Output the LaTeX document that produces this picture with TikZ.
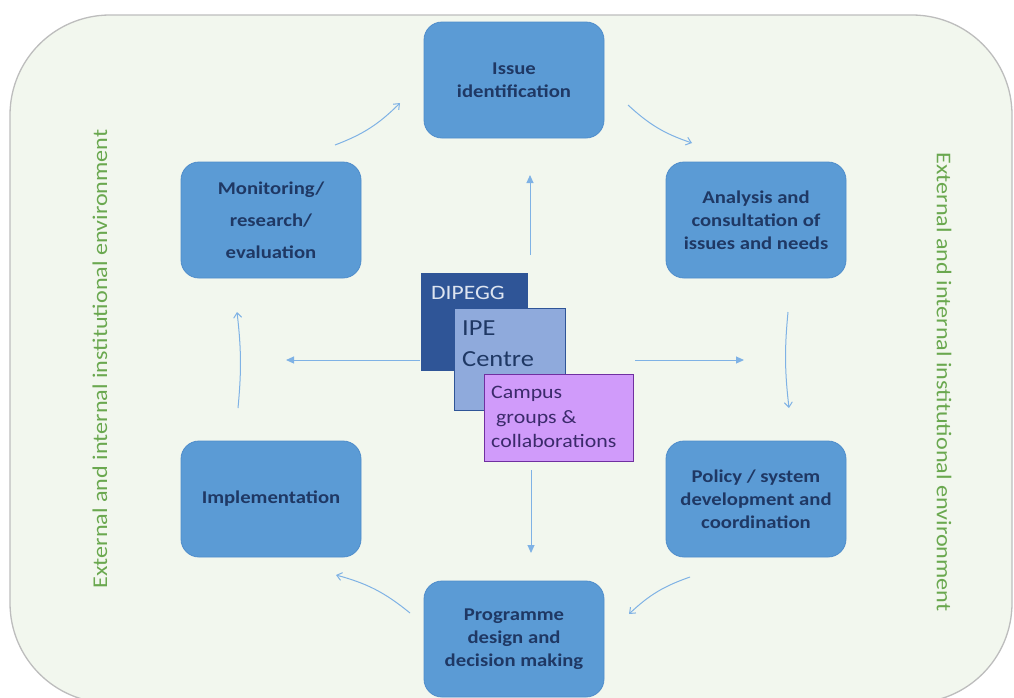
\documentclass[tikz,border=0pt]{standalone}
\usepackage{fontspec}
\setmainfont[FakeStretch=1.15]{Carlito}
\usetikzlibrary{arrows.meta}
\definecolor{bgfill}{HTML}{F2F7EE}
\definecolor{bgline}{HTML}{BDBDBD}
\definecolor{boxfill}{HTML}{5B9BD5}
\definecolor{boxline}{HTML}{4F8DCB}
\definecolor{boxtext}{HTML}{1F3864}
\definecolor{arrowc}{HTML}{7FB2E5}
\definecolor{envgreen}{HTML}{6AA84F}
\definecolor{dipegg}{HTML}{2F5597}
\definecolor{dipeggtext}{HTML}{DDE4F0}
\definecolor{ipe}{HTML}{8FAADC}
\definecolor{campus}{HTML}{D09BFA}
\definecolor{campusline}{HTML}{7030A0}
\definecolor{campustext}{HTML}{3B2A6B}
\tikzset{
  stage/.style={rounded corners=18, fill=boxfill, draw=boxline, line width=0.8,
    minimum width=180, minimum height=116, text=boxtext, align=center,
    font=\bfseries\fontsize{18}{23}\selectfont},
  cyc/.style={draw=arrowc, line width=1, -{Straight Barb[length=5pt,width=8pt]}},
  ctr/.style={draw=arrowc, line width=1, -{Triangle[length=8pt,width=7pt]}},
  env/.style={text=envgreen, font=\fontsize{21}{22}\selectfont, inner sep=0},
  centrebox/.style={anchor=north west, inner sep=0, line width=1},
}
\begin{document}
\begin{tikzpicture}[x=1pt,y=-1pt]
\useasboundingbox (0,0) rectangle (1014,697);
\begin{scope}
\clip (0,0) rectangle (1014,697);
\path[fill=bgfill, draw=bgline, line width=1.3, rounded corners=100] (10,15) rectangle (1012,703);
\end{scope}

\node[env, rotate=90] (envl) at (100,359) {External and internal institutional environment};
\node[env, rotate=-90] (envr) at (944,382) {External and internal institutional environment};

\node[stage] (issue) at (514,80) {Issue\\identification};
\node[stage] (anal) at (756,220) {Analysis and\\consultation of\\issues and needs};
\node[stage] (policy) at (756,499) {Policy / system\\development and\\coordination};
\node[stage] (prog) at (514,639) {Programme\\design and\\decision making};
\node[stage] (impl) at (271,499) {Implementation};
\node[stage, font=\bfseries\fontsize{18}{32}\selectfont] (mon) at (271,220) {Monitoring/\\research/\\evaluation};

% centre boxes
\node[centrebox, fill=dipegg, draw=dipegg, minimum width=106, minimum height=97] (dip) at (421,273) {};
\node[anchor=west, inner sep=0, text=dipeggtext, font=\fontsize{20.5}{24}\selectfont] (diptxt) at (431,293) {DIPEGG};
\node[centrebox, fill=ipe, draw=dipegg, minimum width=111, minimum height=102] (ipebox) at (454,308) {};
\node[anchor=north west, inner sep=0, text=boxtext, align=left, font=\fontsize{23}{31}\selectfont] (ipetxt) at (462,321) {IPE\\Centre};
\node[centrebox, fill=campus, draw=campusline, minimum width=149, minimum height=87] (camp) at (484,374) {};
\node[anchor=north west, inner sep=0, text=campustext, align=left, font=\fontsize{19}{24.5}\selectfont] (camptxt) at (491,386) {Campus\\\hspace*{5pt}groups \&\\collaborations};

% cycle arrows
\coordinate (a1s) at (335,145); \coordinate (a1e) at (400,103);
\coordinate (a2s) at (628,105); \coordinate (a2e) at (692,143);
\coordinate (a3s) at (788,312); \coordinate (a3e) at (789,408);
\coordinate (a4s) at (690,577); \coordinate (a4e) at (629,614);
\coordinate (a5s) at (410,613); \coordinate (a5e) at (336,575);
\coordinate (a6s) at (238,408); \coordinate (a6e) at (237,312);
\draw[cyc] (a1s) to[bend right=12] (a1e);
\draw[cyc] (a2s) to[bend right=12] (a2e);
\draw[cyc] (a3s) to[bend right=6] (a3e);
\draw[cyc] (a4s) to[bend right=12] (a4e);
\draw[cyc] (a5s) to[bend right=12] (a5e);
\draw[cyc] (a6s) to[bend right=6] (a6e);

% centre arrows
\coordinate (cu1) at (530,255); \coordinate (cu2) at (530,175);
\coordinate (cl1) at (420,360); \coordinate (cl2) at (286,360);
\coordinate (cr1) at (635,360); \coordinate (cr2) at (744,360);
\coordinate (cd1) at (531,470); \coordinate (cd2) at (531,553);
\draw[ctr] (cu1) -- (cu2);
\draw[ctr] (cl1) -- (cl2);
\draw[ctr] (cr1) -- (cr2);
\draw[ctr] (cd1) -- (cd2);
\end{tikzpicture}
\end{document}
